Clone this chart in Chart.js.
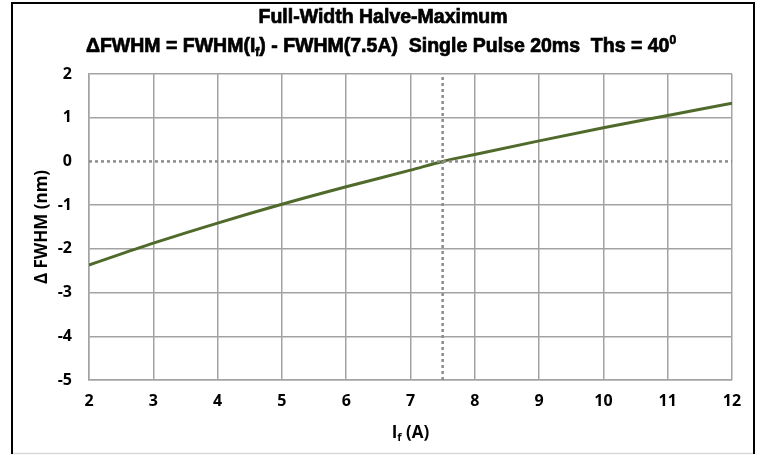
<!DOCTYPE html>
<html>
<head>
<meta charset="utf-8">
<script src="https://cdn.jsdelivr.net/npm/chart.js@4.4.1/dist/chart.umd.min.js"></script>
<style>
  html, body { margin: 0; padding: 0; background: #fff; }
  #wrap { width: 762px; height: 455px; }
</style>
</head>
<body>
<div id="wrap"><canvas id="chart" width="762" height="455"></canvas></div>
<script>
// current values (A) and delta FWHM (nm)
const current = [2, 3, 4, 5, 6, 7, 7.5, 8, 9, 10, 11, 12];
const deltaFwhm = [-2.37, -1.87, -1.41, -0.98, -0.58, -0.2, 0, 0.16, 0.47, 0.77, 1.05, 1.33];

// reference markers: dotted zero line and the 7.5 A line
const refCurrent = 7.5;
const xRange = [2, 12];
const yRange = [-5, 2];

const titleLine1 = [{ t: 'Full-Width Halve-Maximum' }];
const titleLine2 = [
  { t: 'ΔFWHM = FWHM(I' }, { t: 'f', sub: true },
  { t: ') - FWHM(7.5A)  Single Pulse 20ms  Ths = 40' }, { t: '0', sup: true }
];
const xTitle = [{ t: 'I' }, { t: 'f', sub: true }, { t: ' (A)' }];
const yTitle = 'Δ FWHM (nm)';

const GRID = '#a3a3a3';
const FAMILY = '"Open Sans", Lato, sans-serif';
const TICK_FONT = { family: FAMILY, size: 16, weight: 'bold' };

// draws text made of normal / subscript / superscript pieces, centred at cx
function drawRich(ctx, parts, cx, y, size, family, heavy) {
  const fontFor = p => 'bold ' + (p.sub || p.sup ? Math.round(size * 0.62) : size) + 'px ' + family;
  let total = 0;
  parts.forEach(p => { ctx.font = fontFor(p); total += ctx.measureText(p.t).width; });
  let x = cx - total / 2;
  parts.forEach(p => {
    ctx.font = fontFor(p);
    let dy = 0;
    if (p.sub) dy = size * 0.28;
    if (p.sup) dy = -size * 0.3;
    ctx.fillText(p.t, x, y + dy);
    if (heavy) ctx.strokeText(p.t, x, y + dy);
    x += ctx.measureText(p.t).width;
  });
}

const decorations = {
  id: 'decorations',
  beforeDraw(chart) {
    const ctx = chart.ctx;
    ctx.save();
    ctx.fillStyle = '#fff';
    ctx.fillRect(0, 0, chart.width, chart.height);
    // outer frame
    ctx.strokeStyle = '#d9d9d9';
    ctx.lineWidth = 1.5;
    ctx.beginPath();
    ctx.moveTo(11, 453.5);
    ctx.lineTo(754, 453.5);
    ctx.stroke();
    ctx.strokeStyle = '#000';
    ctx.lineWidth = 2;
    ctx.beginPath();
    ctx.moveTo(12, 454);
    ctx.lineTo(12, 3);
    ctx.lineTo(754, 3);
    ctx.lineTo(754, 454);
    ctx.stroke();
    ctx.restore();
  },
  afterDraw(chart) {
    const ctx = chart.ctx;
    const area = chart.chartArea;
    ctx.save();
    ctx.fillStyle = '#000';
    ctx.strokeStyle = '#000';
    ctx.lineWidth = 0.7;
    ctx.textBaseline = 'middle';
    ctx.textAlign = 'left';
    const titleFamily = '"Liberation Sans", Arial, sans-serif';
    drawRich(ctx, titleLine1, 383, 18, 19.5, titleFamily, true);
    drawRich(ctx, titleLine2, 381, 47, 19.5, titleFamily, true);
    drawRich(ctx, xTitle, (area.left + area.right) / 2, 433, 17, FAMILY, false);
    ctx.translate(42, (area.top + area.bottom) / 2);
    ctx.rotate(-Math.PI / 2);
    ctx.textAlign = 'center';
    ctx.font = 'bold 17px ' + FAMILY;
    ctx.fillText(yTitle, 0, 0);
    ctx.restore();
  }
};

new Chart(document.getElementById('chart'), {
  type: 'scatter',
  data: {
    datasets: [
      {
        label: 'zero',
        data: xRange.map(x => ({ x: x, y: 0 })),
        showLine: true,
        borderColor: '#8c8c8c',
        borderWidth: 2.5,
        borderDash: [3, 3],
        pointRadius: 0
      },
      {
        label: 'ref',
        data: yRange.map(y => ({ x: refCurrent, y: y })),
        showLine: true,
        borderColor: '#8c8c8c',
        borderWidth: 2.5,
        borderDash: [3, 3],
        pointRadius: 0
      },
      {
        label: 'ΔFWHM',
        data: current.map((x, i) => ({ x: x, y: deltaFwhm[i] })),
        showLine: true,
        borderColor: '#4f6a2a',
        borderWidth: 3,
        cubicInterpolationMode: 'monotone',
        pointRadius: 0
      }
    ]
  },
  options: {
    responsive: false,
    animation: false,
    layout: { padding: { left: 0, top: 74, right: 30, bottom: 0 } },
    plugins: {
      legend: { display: false },
      tooltip: { enabled: false }
    },
    scales: {
      x: {
        type: 'linear',
        min: xRange[0],
        max: xRange[1],
        ticks: { stepSize: 1, color: '#000', font: TICK_FONT, padding: 12 },
        grid: { color: GRID, lineWidth: 1.5, drawTicks: false },
        border: { color: GRID, width: 1.5 },
        afterFit(scale) { scale.height = 75; }
      },
      y: {
        min: yRange[0],
        max: yRange[1],
        ticks: { stepSize: 1, color: '#000', font: TICK_FONT, padding: 17 },
        grid: {
          color: c => (c.tick && c.tick.value === 0 ? 'rgba(0,0,0,0)' : GRID),
          lineWidth: 1.5,
          drawTicks: false
        },
        border: { color: GRID, width: 1.5 },
        afterFit(scale) { scale.width = 89; }
      }
    }
  },
  plugins: [decorations]
});
</script>
</body>
</html>
